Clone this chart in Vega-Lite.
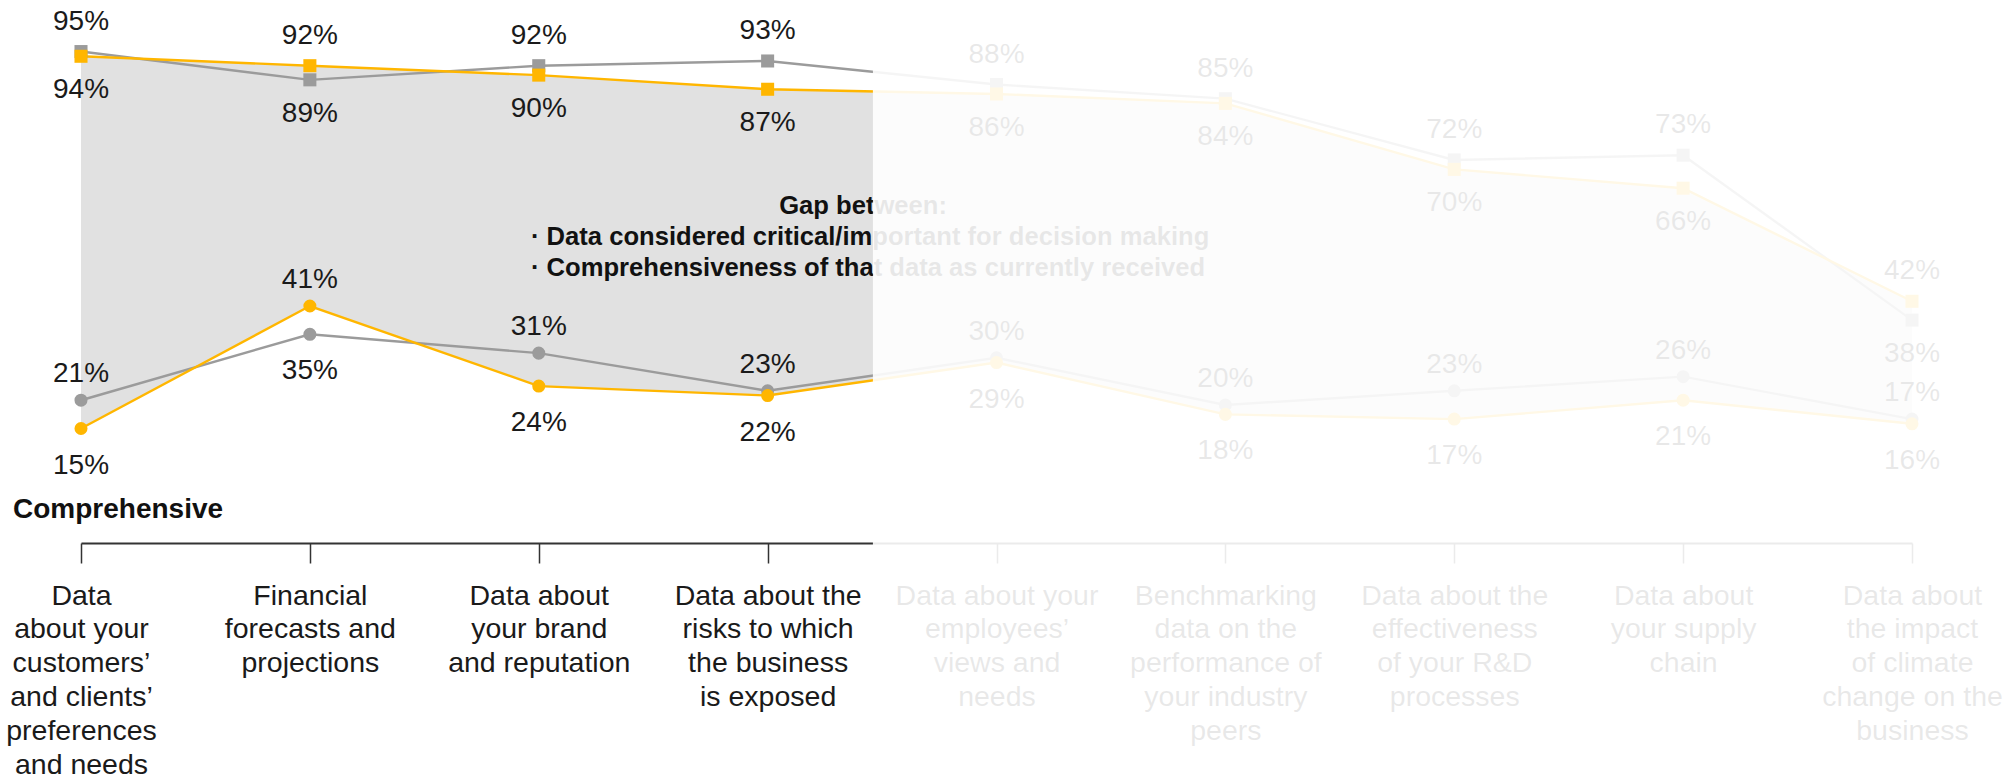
{
  "$schema": "https://vega.github.io/schema/vega-lite/v6.json",
  "autosize": {"type": "none"},
  "width": 1831,
  "height": 515,
  "padding": {"left": 81, "top": 28, "right": 93, "bottom": 237},
  "background": "white",
  "config": {
    "view": {"stroke": null},
    "font": "Liberation Sans",
    "text": {"font": "Liberation Sans", "color": "#1a1a1a"},
    "axis": {"grid": false}
  },
  "datasets": {
    "pts": [
      {"cat": "Data|about your|customers’|and clients’|preferences|and needs", "s": "grey", "g": "critical", "v": 95},
      {"cat": "Data|about your|customers’|and clients’|preferences|and needs", "s": "yellow", "g": "critical", "v": 94},
      {"cat": "Data|about your|customers’|and clients’|preferences|and needs", "s": "grey", "g": "comprehensive", "v": 21},
      {"cat": "Data|about your|customers’|and clients’|preferences|and needs", "s": "yellow", "g": "comprehensive", "v": 15},
      {"cat": "Financial|forecasts and|projections", "s": "grey", "g": "critical", "v": 89},
      {"cat": "Financial|forecasts and|projections", "s": "yellow", "g": "critical", "v": 92},
      {"cat": "Financial|forecasts and|projections", "s": "grey", "g": "comprehensive", "v": 35},
      {"cat": "Financial|forecasts and|projections", "s": "yellow", "g": "comprehensive", "v": 41},
      {"cat": "Data about|your brand|and reputation", "s": "grey", "g": "critical", "v": 92},
      {"cat": "Data about|your brand|and reputation", "s": "yellow", "g": "critical", "v": 90},
      {"cat": "Data about|your brand|and reputation", "s": "grey", "g": "comprehensive", "v": 31},
      {"cat": "Data about|your brand|and reputation", "s": "yellow", "g": "comprehensive", "v": 24},
      {"cat": "Data about the|risks to which|the business|is exposed", "s": "grey", "g": "critical", "v": 93},
      {"cat": "Data about the|risks to which|the business|is exposed", "s": "yellow", "g": "critical", "v": 87},
      {"cat": "Data about the|risks to which|the business|is exposed", "s": "grey", "g": "comprehensive", "v": 23},
      {"cat": "Data about the|risks to which|the business|is exposed", "s": "yellow", "g": "comprehensive", "v": 22},
      {"cat": "Data about your|employees’|views and|needs", "s": "grey", "g": "critical", "v": 88},
      {"cat": "Data about your|employees’|views and|needs", "s": "yellow", "g": "critical", "v": 86},
      {"cat": "Data about your|employees’|views and|needs", "s": "grey", "g": "comprehensive", "v": 30},
      {"cat": "Data about your|employees’|views and|needs", "s": "yellow", "g": "comprehensive", "v": 29},
      {"cat": "Benchmarking|data on the|performance of|your industry|peers", "s": "grey", "g": "critical", "v": 85},
      {"cat": "Benchmarking|data on the|performance of|your industry|peers", "s": "yellow", "g": "critical", "v": 84},
      {"cat": "Benchmarking|data on the|performance of|your industry|peers", "s": "grey", "g": "comprehensive", "v": 20},
      {"cat": "Benchmarking|data on the|performance of|your industry|peers", "s": "yellow", "g": "comprehensive", "v": 18},
      {"cat": "Data about the|effectiveness|of your R&D|processes", "s": "grey", "g": "critical", "v": 72},
      {"cat": "Data about the|effectiveness|of your R&D|processes", "s": "yellow", "g": "critical", "v": 70},
      {"cat": "Data about the|effectiveness|of your R&D|processes", "s": "grey", "g": "comprehensive", "v": 23},
      {"cat": "Data about the|effectiveness|of your R&D|processes", "s": "yellow", "g": "comprehensive", "v": 17},
      {"cat": "Data about|your supply|chain", "s": "grey", "g": "critical", "v": 73},
      {"cat": "Data about|your supply|chain", "s": "yellow", "g": "critical", "v": 66},
      {"cat": "Data about|your supply|chain", "s": "grey", "g": "comprehensive", "v": 26},
      {"cat": "Data about|your supply|chain", "s": "yellow", "g": "comprehensive", "v": 21},
      {"cat": "Data about|the impact|of climate|change on the|business", "s": "grey", "g": "critical", "v": 38},
      {"cat": "Data about|the impact|of climate|change on the|business", "s": "yellow", "g": "critical", "v": 42},
      {"cat": "Data about|the impact|of climate|change on the|business", "s": "grey", "g": "comprehensive", "v": 17},
      {"cat": "Data about|the impact|of climate|change on the|business", "s": "yellow", "g": "comprehensive", "v": 16}
    ],
    "side": [
      {"cat": "Data|about your|customers’|and clients’|preferences|and needs", "t": "Comprehensive", "v": -4}
    ],
    "gaptitle": [
      {"t": "Gap between:", "px": 3.417, "py": 62.3}
    ],
    "bullets": [
      {"t": "· Data considered critical/important for decision making", "px": 1.966, "py": 55.6},
      {"t": "· Comprehensiveness of that data as currently received", "px": 1.966, "py": 49.1}
    ],
    "fade": [
      {"x": 3.46, "x2": 8.8, "y": 115, "y2": -75}
    ]
  },
  "layer": [
    {
      "data": {"name": "pts"},
      "encoding": {
        "x": {
          "field": "cat",
          "type": "nominal",
          "sort": null,
          "scale": {"type": "point", "padding": 0},
          "axis": {
            "title": null,
            "domainColor": "#333333",
            "domainWidth": 2,
            "tickColor": "#333333",
            "tickSize": 20,
            "tickWidth": 1.5,
            "labelFont": "Liberation Sans",
            "labelFontSize": 28.5,
            "labelColor": "#1a1a1a",
            "labelLineHeight": 33.8,
            "labelPadding": 18,
            "labelAngle": 0,
            "labelAlign": "center",
            "labelBaseline": "top",
            "labelLimit": 0,
            "labelOverlap": false,
            "labelBound": false,
            "labelExpr": "split(datum.label, '|')"
          }
        }
      },
      "layer": [
        {
          "transform": [
            {"filter": "datum.s == 'yellow'"},
            {"pivot": "g", "value": "v", "groupby": ["cat"]}
          ],
          "mark": {"type": "area", "color": "#e1e1e1", "opacity": 1},
          "encoding": {
            "y": {"field": "critical", "type": "quantitative", "scale": {"domain": [-9.3, 100], "nice": false, "zero": false}, "axis": null},
            "y2": {"field": "comprehensive"},
            "order": {"value": null}
          }
        },
        {
          "mark": {"type": "line", "strokeWidth": 2.4},
          "encoding": {
            "y": {"field": "v", "type": "quantitative", "scale": {"domain": [-9.3, 100], "nice": false, "zero": false}, "axis": null},
            "color": {"field": "s", "type": "nominal", "scale": {"domain": ["grey", "yellow"], "range": ["#9b9b9b", "#ffb600"]}, "legend": null},
            "detail": {"field": "g"},
            "order": {"value": null}
          }
        },
        {
          "mark": {"type": "point", "filled": true, "size": 170, "opacity": 1},
          "encoding": {
            "y": {"field": "v", "type": "quantitative", "axis": null},
            "color": {"field": "s", "type": "nominal", "scale": {"domain": ["grey", "yellow"], "range": ["#9b9b9b", "#ffb600"]}, "legend": null},
            "shape": {"field": "g", "type": "nominal", "scale": {"domain": ["critical", "comprehensive"], "range": ["square", "circle"]}, "legend": null}
          }
        },
        {
          "transform": [
            {"joinaggregate": [{"op": "max", "field": "v", "as": "mx"}], "groupby": ["cat", "g"]},
            {"filter": "datum.g == 'critical' && datum.v == datum.mx"},
            {"calculate": "datum.v + '%'", "as": "lbl"}
          ],
          "mark": {"type": "text", "fontSize": 28, "baseline": "middle", "dy": -30, "color": "#1a1a1a"},
          "encoding": {"y": {"field": "v", "type": "quantitative", "axis": null}, "text": {"field": "lbl"}}
        },
        {
          "transform": [
            {"joinaggregate": [{"op": "max", "field": "v", "as": "mx"}], "groupby": ["cat", "g"]},
            {"filter": "datum.g == 'critical' && datum.v < datum.mx"},
            {"calculate": "datum.v + '%'", "as": "lbl"}
          ],
          "mark": {"type": "text", "fontSize": 28, "baseline": "middle", "dy": 34, "color": "#1a1a1a"},
          "encoding": {"y": {"field": "v", "type": "quantitative", "axis": null}, "text": {"field": "lbl"}}
        },
        {
          "transform": [
            {"joinaggregate": [{"op": "max", "field": "v", "as": "mx"}], "groupby": ["cat", "g"]},
            {"filter": "datum.g == 'comprehensive' && datum.v == datum.mx"},
            {"calculate": "datum.v + '%'", "as": "lbl"}
          ],
          "mark": {"type": "text", "fontSize": 28, "baseline": "middle", "dy": -26, "color": "#1a1a1a"},
          "encoding": {"y": {"field": "v", "type": "quantitative", "axis": null}, "text": {"field": "lbl"}}
        },
        {
          "transform": [
            {"joinaggregate": [{"op": "max", "field": "v", "as": "mx"}], "groupby": ["cat", "g"]},
            {"filter": "datum.g == 'comprehensive' && datum.v < datum.mx"},
            {"calculate": "datum.v + '%'", "as": "lbl"}
          ],
          "mark": {"type": "text", "fontSize": 28, "baseline": "middle", "dy": 37, "color": "#1a1a1a"},
          "encoding": {"y": {"field": "v", "type": "quantitative", "axis": null}, "text": {"field": "lbl"}}
        },
        {
          "data": {"name": "side"},
          "mark": {"type": "text", "fontSize": 28, "fontWeight": "bold", "align": "left", "baseline": "alphabetic", "dx": -68, "color": "#111111"},
          "encoding": {"y": {"field": "v", "type": "quantitative", "axis": null}, "text": {"field": "t"}}
        }
      ]
    },
    {
      "layer": [
        {
          "data": {"name": "gaptitle"},
          "mark": {"type": "text", "fontSize": 25.6, "fontWeight": "bold", "align": "center", "baseline": "middle", "color": "#111111"},
          "encoding": {
            "x": {"field": "px", "type": "quantitative", "scale": {"domain": [0, 8], "nice": false, "zero": false}, "axis": null},
            "y": {"field": "py", "type": "quantitative", "axis": null},
            "text": {"field": "t"}
          }
        },
        {
          "data": {"name": "bullets"},
          "mark": {"type": "text", "fontSize": 25.6, "fontWeight": "bold", "align": "left", "baseline": "middle", "color": "#111111"},
          "encoding": {
            "x": {"field": "px", "type": "quantitative", "axis": null},
            "y": {"field": "py", "type": "quantitative", "axis": null},
            "text": {"field": "t"}
          }
        },
        {
          "data": {"name": "fade"},
          "mark": {"type": "rect", "color": "#ffffff", "opacity": 0.9},
          "encoding": {
            "x": {"field": "x", "type": "quantitative", "axis": null},
            "x2": {"field": "x2"},
            "y": {"field": "y", "type": "quantitative", "axis": null},
            "y2": {"field": "y2"}
          }
        }
      ]
    }
  ],
  "resolve": {"scale": {"x": "independent"}}
}
